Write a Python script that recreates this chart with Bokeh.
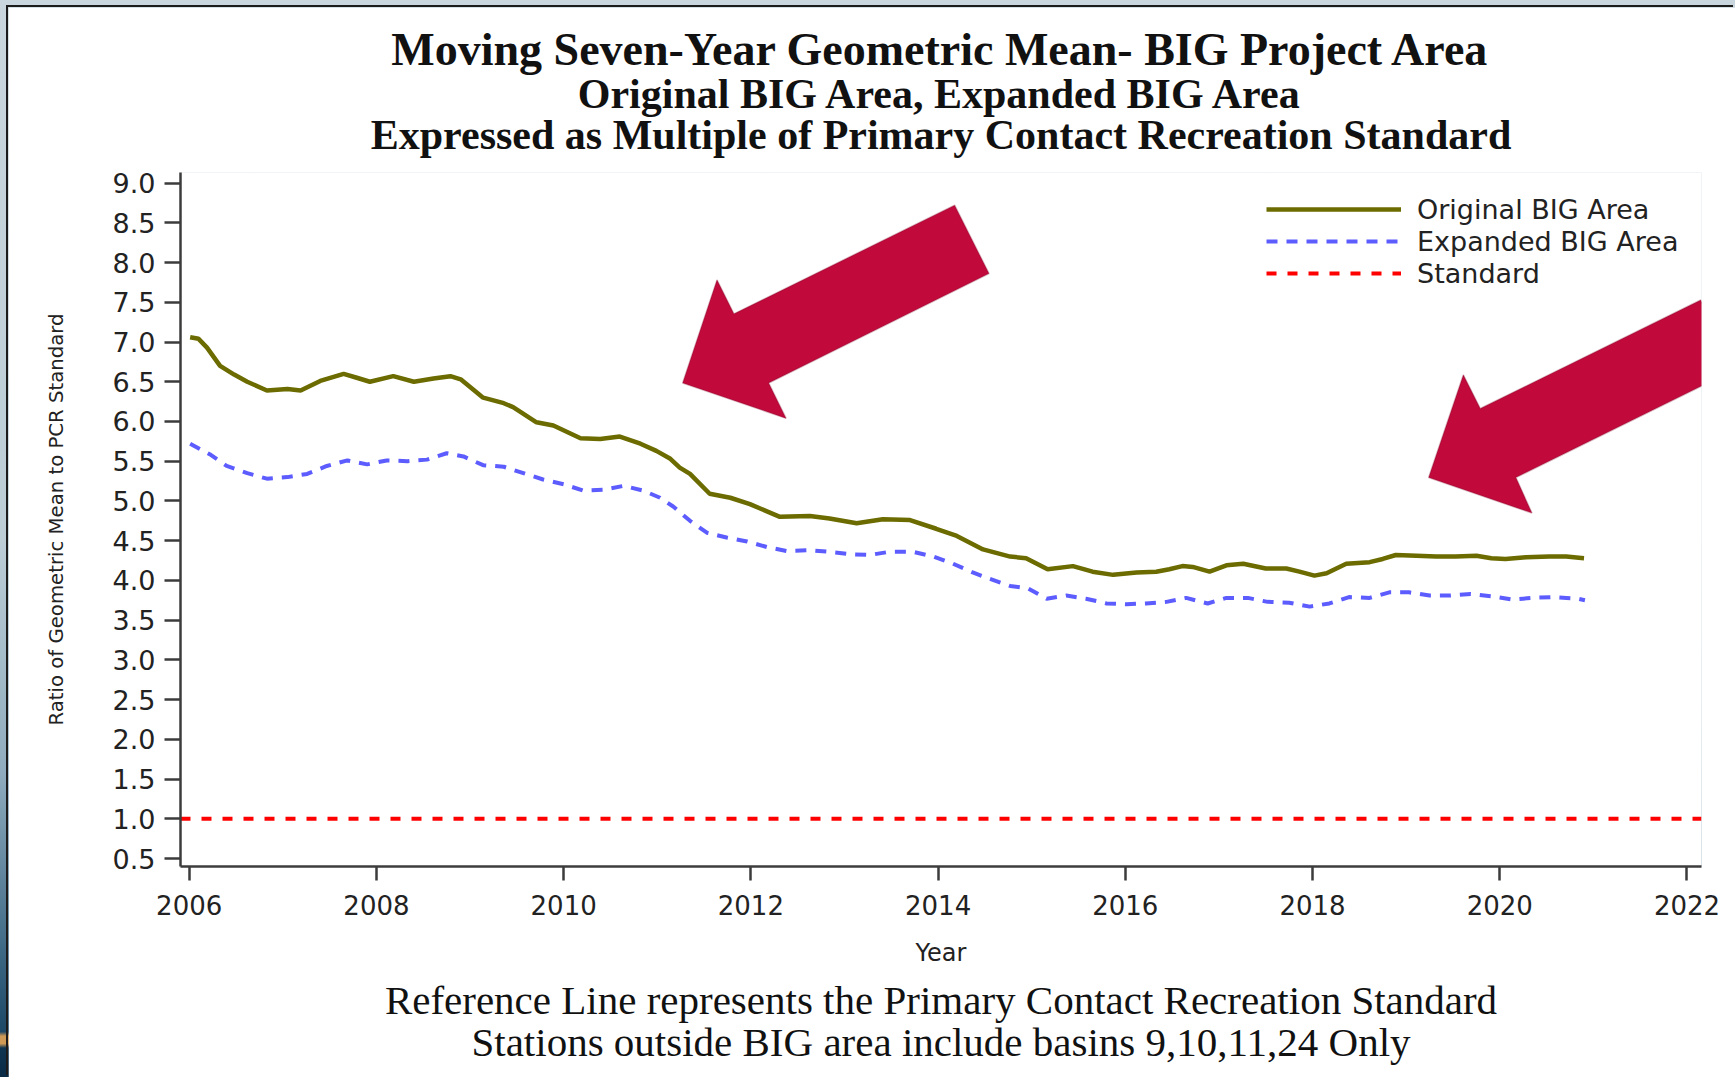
from bokeh.plotting import figure
from bokeh.models import (Range1d, FixedTicker, NumeralTickFormatter, Legend, Title,
                          LegendItem, PolyAnnotation, GlobalInlineStyleSheet)
from bokeh.embed import file_html
from bokeh.resources import INLINE

# ---------------- data ----------------
orig_years = [2006.01, 2006.10, 2006.19, 2006.33, 2006.48, 2006.62, 2006.83, 2007.05, 2007.19,
              2007.40, 2007.65, 2007.79, 2007.93, 2008.18, 2008.40, 2008.61, 2008.79, 2008.90,
              2009.14, 2009.36, 2009.46, 2009.71, 2009.89, 2010.18, 2010.39, 2010.60, 2010.82,
              2010.99, 2011.14, 2011.24, 2011.35, 2011.56, 2011.78, 2011.99, 2012.31, 2012.63,
              2012.84, 2013.13, 2013.41, 2013.70, 2013.98, 2014.20, 2014.48, 2014.77, 2014.94,
              2015.17, 2015.44, 2015.65, 2015.87, 2016.12, 2016.33, 2016.47, 2016.61, 2016.72,
              2016.90, 2017.08, 2017.26, 2017.50, 2017.72, 2017.86, 2018.02, 2018.15, 2018.36,
              2018.61, 2018.75, 2018.89, 2019.11, 2019.32, 2019.53, 2019.75, 2019.91, 2020.06,
              2020.28, 2020.53, 2020.71, 2020.90]
orig_values = [7.06, 7.04, 6.93, 6.70, 6.59, 6.50, 6.39, 6.41, 6.39,
               6.51, 6.60, 6.55, 6.50, 6.57, 6.50, 6.54, 6.57, 6.53,
               6.30, 6.23, 6.18, 5.99, 5.95, 5.79, 5.78, 5.81, 5.72,
               5.63, 5.53, 5.42, 5.34, 5.09, 5.04, 4.96, 4.80, 4.81,
               4.78, 4.72, 4.77, 4.76, 4.65, 4.56, 4.39, 4.30, 4.28,
               4.14, 4.18, 4.11, 4.07, 4.10, 4.11, 4.14, 4.18, 4.17,
               4.11, 4.19, 4.21, 4.15, 4.15, 4.11, 4.06, 4.09, 4.21,
               4.23, 4.27, 4.32, 4.31, 4.30, 4.30, 4.31, 4.28, 4.27,
               4.29, 4.30, 4.30, 4.28]

exp_years = [2006.01, 2006.23, 2006.40, 2006.62, 2006.83, 2007.05, 2007.26, 2007.47, 2007.69,
             2007.90, 2008.11, 2008.33, 2008.54, 2008.75, 2008.93, 2009.14, 2009.36, 2009.57,
             2009.78, 2010.00, 2010.21, 2010.42, 2010.64, 2010.85, 2011.03, 2011.17, 2011.35,
             2011.53, 2011.74, 2011.96, 2012.17, 2012.38, 2012.63, 2012.84, 2013.06, 2013.27,
             2013.48, 2013.73, 2013.95, 2014.16, 2014.37, 2014.55, 2014.77, 2014.96, 2015.16,
             2015.37, 2015.58, 2015.80, 2016.01, 2016.22, 2016.44, 2016.65, 2016.88, 2017.08,
             2017.31, 2017.52, 2017.75, 2017.97, 2018.18, 2018.39, 2018.61, 2018.82, 2019.03,
             2019.25, 2019.46, 2019.69, 2019.91, 2020.13, 2020.35, 2020.55, 2020.83, 2020.91]
exp_values = [5.72, 5.58, 5.44, 5.35, 5.28, 5.30, 5.34, 5.44, 5.51,
              5.46, 5.51, 5.50, 5.52, 5.60, 5.56, 5.45, 5.43, 5.35,
              5.27, 5.21, 5.13, 5.14, 5.19, 5.13, 5.04, 4.93, 4.75,
              4.60, 4.54, 4.49, 4.42, 4.37, 4.38, 4.36, 4.33, 4.32,
              4.36, 4.36, 4.30, 4.21, 4.10, 4.02, 3.93, 3.90, 3.77,
              3.81, 3.77, 3.71, 3.70, 3.71, 3.73, 3.78, 3.71, 3.78,
              3.78, 3.73, 3.72, 3.67, 3.71, 3.79, 3.78, 3.85, 3.85,
              3.81, 3.81, 3.83, 3.80, 3.76, 3.78, 3.79, 3.77, 3.75]

standard_value = 1.0

x_ticks = [2006, 2008, 2010, 2012, 2014, 2016, 2018, 2020, 2022]
y_ticks = [0.5, 1.0, 1.5, 2.0, 2.5, 3.0, 3.5, 4.0, 4.5, 5.0, 5.5, 6.0, 6.5, 7.0, 7.5, 8.0, 8.5, 9.0]

series_labels = ["Original BIG Area", "Expanded BIG Area", "Standard"]

title_lines = ["Moving Seven-Year Geometric Mean- BIG Project Area",
               "Original BIG Area, Expanded BIG Area",
               "Expressed as Multiple of Primary Contact Recreation Standard"]
note_lines = ["Reference Line represents the Primary Contact Recreation Standard",
              "Stations outside BIG area include basins 9,10,11,24 Only"]
x_title = "Year"
y_title = "Ratio of Geometric Mean to PCR Standard"

# arrow call-outs (annotation shapes, in data units)
arrow1_x = [2014.177, 2014.544, 2012.191, 2012.377, 2011.271, 2011.638, 2011.819]
arrow1_y = [8.722, 7.861, 6.484, 6.039, 6.484, 7.782, 7.354]
arrow2_x = [2022.147, 2022.508, 2020.173, 2020.344, 2019.240, 2019.611, 2019.792]
arrow2_y = [7.528, 6.650, 5.295, 4.847, 5.295, 6.587, 6.163]

# ---------------- figure ----------------
X0, X1 = 2005.907, 2022.155
Y0, Y1 = 0.4, 9.133

page_css = """
html, body { margin: 0; padding: 0; overflow: hidden; }
html { background: linear-gradient(to bottom, #c9d6dd 0%, #bccdd6 50%, #8eabbd 72%,
        #3f6a86 88%, #1d4866 95.8%, #cf9a55 96.2%, #cf9a55 96.9%, #0f3552 97.3%, #0a2a44 100%); }
"""

p = figure(width=1727, height=1070, x_range=Range1d(X0, X1), y_range=Range1d(Y0, Y1),
           min_border_left=172, min_border_right=34, min_border_top=165, min_border_bottom=211,
           output_backend="svg", toolbar_location=None)
p.margin = (7, 0, 0, 8)
p.styles = {"box-shadow": "-2px -2px 0 0 #1b1b1b"}
p.stylesheets = [GlobalInlineStyleSheet(css=page_css)]
p.outline_line_color = None
p.xgrid.grid_line_color = None
p.ygrid.grid_line_color = None
p.background_fill_color = "white"
p.border_fill_color = "white"

axis_col = "#3c3c3c"
for ax in (p.xaxis[0], p.yaxis[0]):
    ax.axis_line_color = axis_col
    ax.axis_line_width = 2.5
    ax.major_tick_line_color = axis_col
    ax.major_tick_line_width = 2.5
    ax.minor_tick_line_color = None
    ax.major_tick_in = 0
    ax.major_label_text_font = "DejaVu Sans"
    ax.major_label_text_color = "#222222"
    ax.axis_label_text_font = "DejaVu Sans"
    ax.axis_label_text_font_style = "normal"
    ax.axis_label_text_color = "#222222"

p.xaxis.ticker = FixedTicker(ticks=x_ticks)
p.xaxis.formatter = NumeralTickFormatter(format="0")
p.xaxis.major_label_text_font_size = "26px"
p.xaxis.major_tick_out = 14
p.xaxis.major_label_standoff = 14
p.xaxis.axis_label = x_title
p.xaxis.axis_label_text_font_size = "24px"
p.xaxis.axis_label_standoff = 21

p.yaxis.ticker = FixedTicker(ticks=y_ticks)
p.yaxis.formatter = NumeralTickFormatter(format="0.0")
p.yaxis.major_label_text_font_size = "27px"
p.yaxis.major_tick_out = 16
p.yaxis.major_label_standoff = 9
p.yaxis.axis_label = y_title
p.yaxis.axis_label_text_font_size = "19.7px"
p.yaxis.axis_label_standoff = 42

r_std = p.line([X0, X1], [standard_value, standard_value], line_color="#ff0000",
               line_width=4, line_dash="10 11")
r_exp = p.line(exp_years, exp_values, line_color="#5c5cff", line_width=4, line_dash="11 9")
r_orig = p.line(orig_years, orig_values, line_color="#6b6b00", line_width=4.5)

for ax_, ay_ in ((arrow1_x, arrow1_y), (arrow2_x, arrow2_y)):
    p.add_layout(PolyAnnotation(xs=ax_, ys=ay_, fill_color="#c10a3b", fill_alpha=1.0,
                                line_color="#7d0a2a", line_width=1.5))

legend = Legend(items=[LegendItem(label=series_labels[0], renderers=[r_orig]),
                       LegendItem(label=series_labels[1], renderers=[r_exp]),
                       LegendItem(label=series_labels[2], renderers=[r_std])],
                location=(1086, 577), glyph_width=135, glyph_height=32, label_height=32,
                spacing=0, padding=0, margin=0, label_standoff=16,
                border_line_color=None, background_fill_alpha=0,
                label_text_font="DejaVu Sans", label_text_font_size="27px",
                label_text_color="#222222")
p.add_layout(legend)

# titles above (added from the frame outward); a blank spacer sits next to the frame
p.add_layout(Title(text=" ", text_font_size="1px", standoff=15), "above")
for txt, fs, so in ((title_lines[2], "42px", -7), (title_lines[1], "42px", -7),
                    (title_lines[0], "46px", -5)):
    p.add_layout(Title(text=txt, align="center", text_font="Liberation Serif",
                       text_font_style="bold", text_font_size=fs, text_color="#111111",
                       standoff=so), "above")
# notes below
for txt, so in ((note_lines[0], 10), (note_lines[1], -21)):
    p.add_layout(Title(text=txt, align="center", text_font="Liberation Serif",
                       text_font_style="normal", text_font_size="41px", text_color="#111111",
                       standoff=so), "below")

open("out.html", "w").write(file_html(p, INLINE))
